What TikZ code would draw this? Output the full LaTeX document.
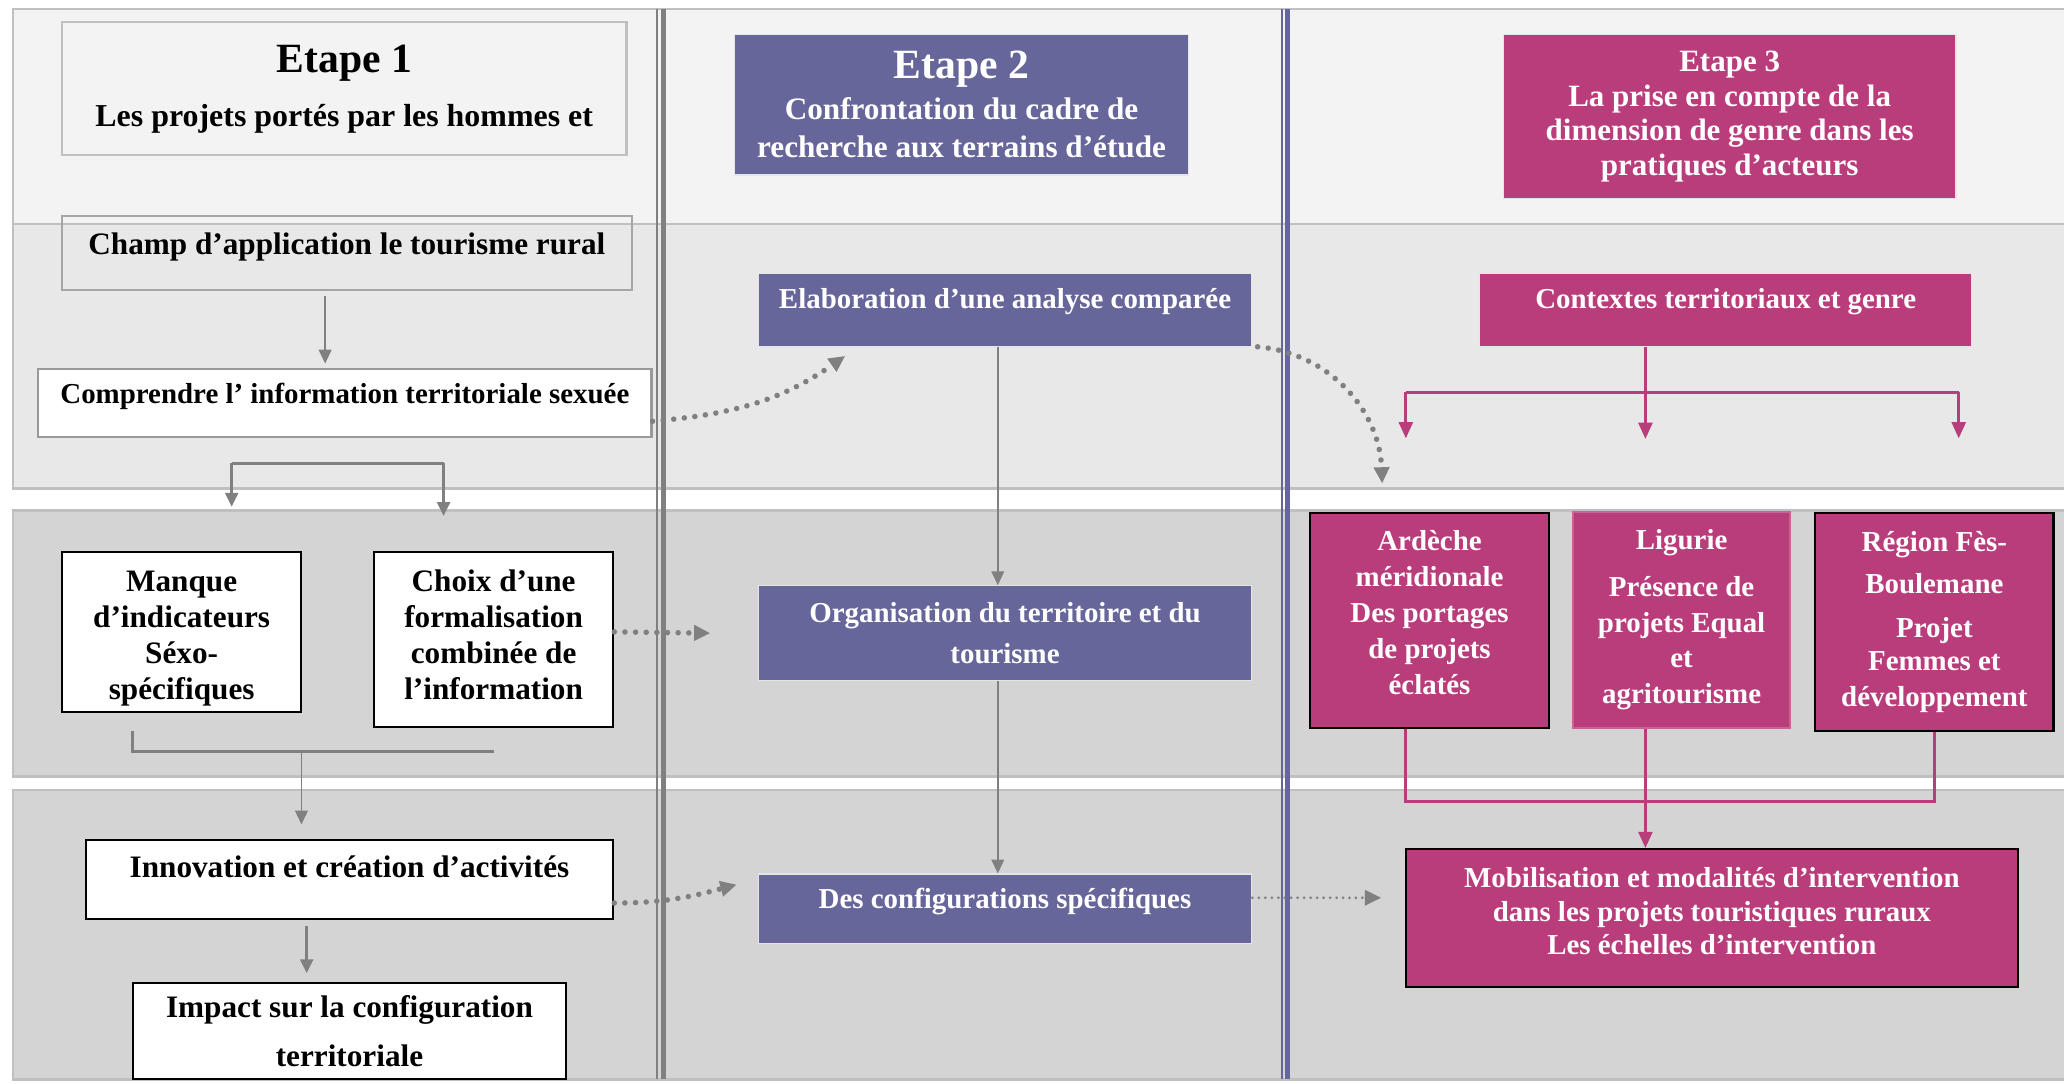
\documentclass[tikz,border=0pt]{standalone}
\usepackage{fontspec}
\setmainfont{Liberation Serif}
\usetikzlibrary{positioning}
\usetikzlibrary{calc}
\usetikzlibrary{arrows.meta}

\definecolor{etapeviolet}{HTML}{67669A}
\definecolor{etapemagenta}{HTML}{B93D7A}
\definecolor{bandlight}{HTML}{F3F3F3}
\definecolor{bandmid}{HTML}{E8E8E8}
\definecolor{banddark}{HTML}{D4D4D4}
\definecolor{bandline}{HTML}{C0C0C0}
\definecolor{flowgray}{HTML}{808080}

\begin{document}
\begin{tikzpicture}[x=0.02cm,y=-0.02cm,
	txt/.style={align=center,inner sep=0pt,font=\fontsize{12.5}{15.5}\selectfont\bfseries},
	bigtxt/.style={font=\fontsize{13.5}{15.5}\selectfont\bfseries},
	greybox/.style={txt,draw=bandline,line width=0.9pt},
	whitebox/.style={txt,bigtxt,draw=black,fill=white,line width=0.8pt},
	violetbox/.style={txt,draw=white!90!black,fill=etapeviolet,text=white,line width=0.5pt},
	magbox/.style={txt,draw=black,fill=etapemagenta,text=white,line width=0.9pt},
	band/.style={draw=bandline,line width=1.1pt},
	flow/.style={draw=flowgray,line width=0.7pt,-{Triangle[length=6pt,width=5.5pt]}},
	magline/.style={draw=etapemagenta,line width=1.2pt},
	magflow/.style={magline,-{Triangle[length=7pt,width=6pt]}},
	dotflow/.style={draw=flowgray,line width=2.4pt,line cap=round,dash pattern=on 0pt off 4.6pt,-{Triangle[length=7pt,width=6.5pt]}},
	finedot/.style={draw=flowgray,line width=1.3pt,line cap=round,dash pattern=on 0pt off 2.8pt,-{Triangle[length=7pt,width=6.5pt]}}]

	\useasboundingbox (0,0) rectangle (1568,823);
	\clip (0,0) rectangle (1568,823);
	\fill[white] (0,0) rectangle (1568,823);

	% bandes
	\draw[band,fill=bandlight] (10,7) rectangle (1590,170);
	\draw[band,fill=bandmid] (10,170) rectangle (1590,371);
	\draw[band,fill=banddark] (10,388) rectangle (1590,590);
	\draw[band,fill=banddark] (10,600) rectangle (1590,820);

	% colonnes
	\draw[flowgray,line width=0.7pt] (499,7) -- (499,820);
	\draw[flowgray,line width=2pt] (504,7) -- (504,820);
	\draw[etapeviolet,line width=0.7pt] (974,7) -- (974,820);
	\draw[etapeviolet,line width=2pt] (978,7) -- (978,820);

	% etape 1
	\node[greybox,font=\fontsize{13.8}{15.5}\selectfont\bfseries,fill=bandlight,minimum width=8.58cm,minimum height=2.02cm] (etapeA) at (261.5,67.5) {{\fontsize{18}{20}\selectfont Etape 1}\\[8pt]Les projets portés par les hommes et};
	\node[greybox,bigtxt,draw=flowgray!70,minimum width=8.66cm,minimum height=1.12cm,text depth=8pt] (champ) at (263.5,192) {Champ d’application le tourisme rural};
	\node[greybox,draw=flowgray!80,fill=white,minimum width=9.32cm,minimum height=1.04cm,text depth=8pt] (comprendre) at (262,306) {Comprendre l’ information territoriale sexuée};
	\node[whitebox,minimum width=3.64cm,minimum height=2.44cm,text height=61pt] (manque) at (138,480) {Manque\\d’indicateurs\\Séxo-\\spécifiques};
	\node[whitebox,minimum width=3.64cm,minimum height=2.66cm,text depth=4pt] (choix) at (375,485.5) {Choix d’une\\formalisation\\combinée de\\l’information};
	\node[whitebox,minimum width=8.02cm,minimum height=1.2cm,text depth=11pt] (innov) at (265.5,668) {Innovation et création d’activités};
	\node[whitebox,minimum width=6.58cm,minimum height=1.46cm] (impact) at (265.5,783.5) {Impact sur la configuration\\[5.5pt]territoriale};

	% etape 2
	\node[violetbox,font=\fontsize{13.5}{15.5}\selectfont\bfseries,minimum width=6.9cm,minimum height=2.14cm] (etapeB) at (730.5,79.5) {{\fontsize{18}{20}\selectfont Etape 2}\\[2pt]Confrontation du cadre de\\[1pt]recherche aux terrains d’étude};
	\node[violetbox,minimum width=7.5cm,minimum height=1.1cm,text depth=10pt] (elab) at (763.5,235.5) {Elaboration d’une analyse comparée};
	\node[violetbox,minimum width=7.5cm,minimum height=1.44cm] (orga) at (763.5,481) {Organisation du territoire et du\\[2.5pt]tourisme};
	\node[violetbox,minimum width=7.5cm,minimum height=1.06cm,text depth=9pt] (config) at (763.5,690.5) {Des configurations spécifiques};

	% etape 3
	\node[magbox,draw=white!90!black,line width=0.5pt,font=\fontsize{13.4}{15}\selectfont\bfseries,minimum width=6.88cm,minimum height=2.5cm] (etapeC) at (1314,88.5) {Etape 3\\La prise en compte de la\\dimension de genre dans les\\pratiques d’acteurs};
	\node[magbox,draw=white!90!black,line width=0.5pt,minimum width=7.48cm,minimum height=1.1cm,text depth=10pt] (ctx) at (1311,235.5) {Contextes territoriaux et genre};
	\node[magbox,minimum width=3.64cm,minimum height=3.26cm,text depth=7pt] (ardeche) at (1086,471.5) {Ardèche\\méridionale\\Des portages\\de projets\\éclatés};
	\node[magbox,draw=etapemagenta!80!white,minimum width=3.3cm,minimum height=3.28cm] (ligurie) at (1277.5,471) {Ligurie\\[4.5pt]Présence de\\projets Equal\\et\\agritourisme};
	\node[magbox,minimum width=3.62cm,minimum height=3.3cm] (region) at (1469.5,472.5) {Région Fès-\\[2.7pt]Boulemane\\[3.3pt]Projet\\[-1pt]Femmes et\\développement};
	\node[magbox,minimum width=9.3cm,minimum height=2.1cm,text depth=6pt] (mobil) at (1300.5,697.5) {Mobilisation et modalités d’intervention\\[-1pt]dans les projets touristiques ruraux\\[-1pt]Les échelles d’intervention};

	% fleches etape 1
	\draw[flow] ([xshift=-0.33cm,yshift=-0.08cm]champ.south) -- ([xshift=-0.33cm,yshift=0.06cm]champ.south |- comprendre.north);
	\coordinate (splitL) at (176,352);
	\coordinate (splitR) at (337,352);
	\draw[flowgray,line width=1.3pt] (splitL) -- (splitR);
	\draw[flow,line width=1.3pt] (splitL) -- ++(0,33);
	\draw[flow,line width=1.3pt] (splitR) -- ++(0,40);
	\coordinate (joinL) at (101,555);
	\coordinate (joinM) at (229,571);
	\coordinate (joinR) at (375,571);
	\draw[flowgray,line width=1.3pt] (joinL) |- (joinR);
	\draw[flow] (joinM) -- ([yshift=0.22cm]joinM |- innov.north);
	\draw[flow,line width=1.3pt] ([xshift=-0.65cm,yshift=-0.1cm]innov.south) -- ([xshift=-0.65cm,yshift=0.14cm]innov.south |- impact.north);

	% fleches etape 2
	\draw[flow] ([xshift=-0.11cm]elab.south) -- ([xshift=-0.11cm]elab.south |- orga.north);
	\draw[flow] ([xshift=-0.11cm]orga.south) -- ([xshift=-0.11cm]orga.south |- config.north);

	% fleches etape 3
	\coordinate (treeL) at (1068,298);
	\coordinate (treeR) at (1488,298);
	\draw[magline] (treeL) -- (treeR);
	\draw[magflow] ([xshift=-1.22cm]ctx.south) -- ++(0,70);
	\draw[magflow] (treeL) -- ++(0,35);
	\draw[magflow] (treeR) -- ++(0,35);
	\draw[magline] ([xshift=-0.36cm]ardeche.south) |- ([yshift=-1.06cm]region.south) -- (region.south);
	\draw[magflow] ([xshift=-0.55cm]ligurie.south) -- ([xshift=-0.55cm]ligurie.south |- mobil.north);

	% liens entre etapes
	\draw[dotflow] ([yshift=-0.28cm]comprendre.east) to[out=5,in=215] ([xshift=-2.43cm,yshift=-0.14cm]elab.south);
	\draw[dotflow] ([xshift=0.08cm]elab.south east) to[out=-5,in=92] ([xshift=-0.72cm,yshift=0.44cm]ardeche.north);
	\draw[dotflow] ([yshift=0.11cm]choix.east) -- ([xshift=-0.72cm]orga.west);
	\draw[dotflow] ([yshift=-0.36cm]innov.east) to[out=0,in=195] ([xshift=-0.32cm,yshift=0.37cm]config.west);
	\draw[finedot] ([yshift=0.17cm]config.east) -- ([xshift=-0.36cm,yshift=0.31cm]mobil.west);
\end{tikzpicture}
\end{document}
